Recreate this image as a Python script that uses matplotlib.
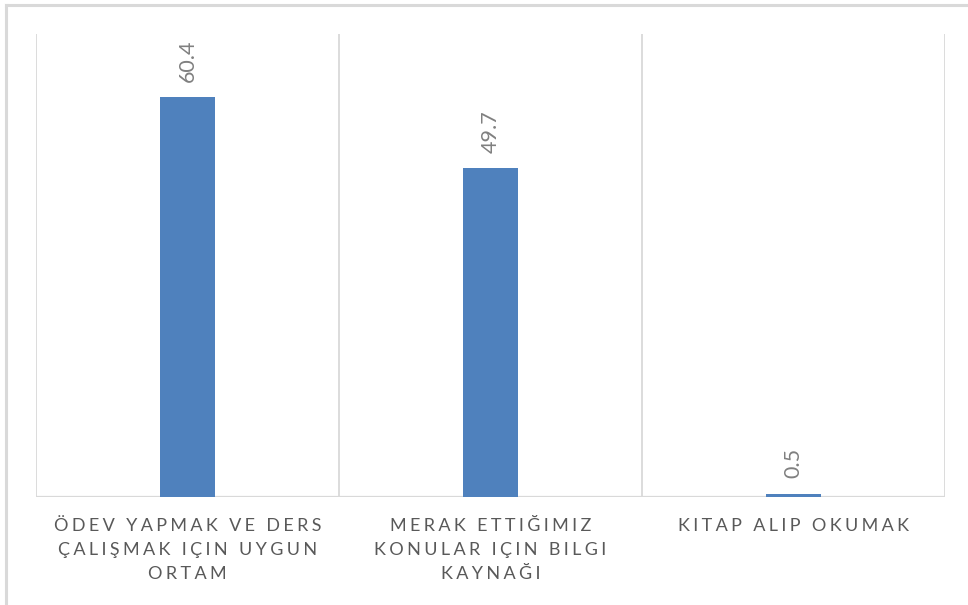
import matplotlib
matplotlib.use("Agg")
import matplotlib.pyplot as plt
from matplotlib.lines import Line2D

categories = [
    "ÖDEV YAPMAK VE DERS\nÇALIŞMAK IÇIN UYGUN\nORTAM",
    "MERAK ETTIĞIMIZ\nKONULAR IÇIN BILGI\nKAYNAĞI",
    "KITAP ALIP OKUMAK",
]
values = [60.4, 49.7, 0.5]
value_labels = ["60.4", "49.7", "0.5"]

BAR_COLOR = "#4F81BD"
GRID_COLOR = "#D9D9D9"
TEXT_COLOR = "#595959"
FONT = ["Lato", "DejaVu Sans"]

W, H = 968, 605
fig = plt.figure(figsize=(W / 100, H / 100), dpi=100)
fig.patch.set_facecolor("white")

# outer frame (top and left edges visible)
fig.add_artist(Line2D([6 / W, 1.0], [1 - 5 / H, 1 - 5 / H], color=GRID_COLOR, lw=2.2))
fig.add_artist(Line2D([6 / W, 6 / W], [0.0, 1 - 5 / H], color=GRID_COLOR, lw=2.2))

left, right, top, bottom = 36, 945, 34, 497
ax = fig.add_axes([left / W, 1 - bottom / H, (right - left) / W, (bottom - top) / H])

x = list(range(len(categories)))
ax.bar(x, values, width=0.18, color=BAR_COLOR, zorder=3)
ax.set_xlim(-0.5, len(categories) - 0.5)
ax.set_ylim(0, 70)

# category separators
for b in [i - 0.5 for i in range(len(categories) + 1)]:
    ax.axvline(b, color=GRID_COLOR, lw=1.3, zorder=1)

for s in ax.spines.values():
    s.set_visible(False)
ax.axhline(0, color=GRID_COLOR, lw=1.6, zorder=2)

ax.set_yticks([])
ax.set_xticks([])

# value labels above bars, rotated
for xi, v, lab in zip(x, values, value_labels):
    ax.annotate(lab, (xi, v), xytext=(0, 11), textcoords="offset points",
                rotation=90, ha="center", va="bottom", fontsize=15.5,
                color="#808080", family=FONT)


def spaced(s):
    return "\n".join("\u2009\u200a".join(ch for ch in line) for line in s.split("\n"))


for xi, cat in zip(x, categories):
    ax.text(xi, -0.045, spaced(cat), transform=ax.get_xaxis_transform(),
            ha="center", va="top", fontsize=13, color=TEXT_COLOR,
            family=FONT, linespacing=1.62, multialignment="center")

fig.savefig("out.png", dpi=100, facecolor="white")
